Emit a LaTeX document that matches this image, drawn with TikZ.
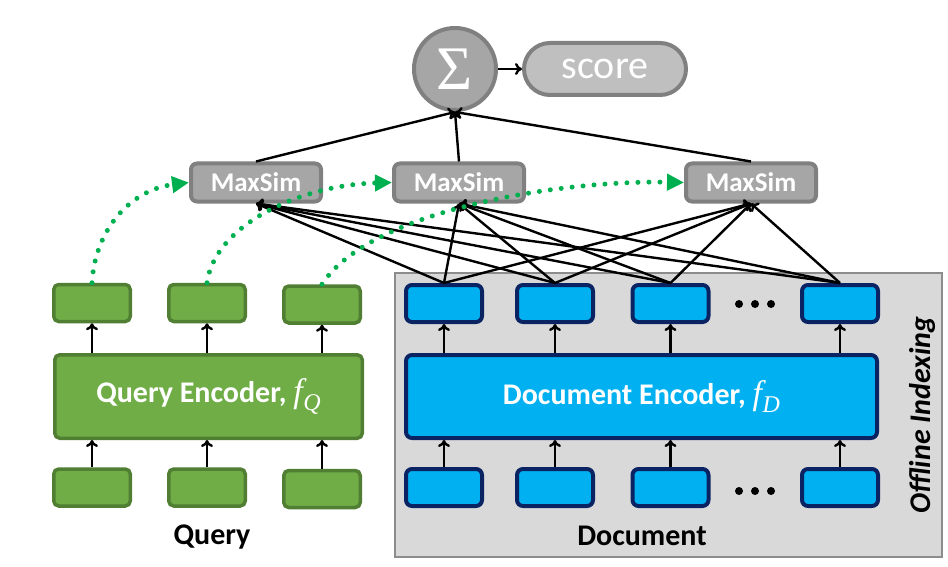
\documentclass[tikz,border=0pt]{standalone}
\usepackage{fontspec}
\setmainfont{Carlito}
\newfontfamily\tnr{Liberation Serif}
\usetikzlibrary{arrows.meta}
\definecolor{qgreen}{HTML}{70AD47}
\definecolor{qdark}{HTML}{507E32}
\definecolor{dblue}{HTML}{00B0F0}
\definecolor{dnavy}{HTML}{0A2463}
\definecolor{boxgray}{HTML}{D9D9D9}
\definecolor{boxedge}{HTML}{8C8C8C}
\definecolor{msfill}{HTML}{A6A6A6}
\definecolor{msedge}{HTML}{808080}
\definecolor{scfill}{HTML}{BFBFBF}
\definecolor{gdotc}{HTML}{00B050}
\newcommand{\encf}[1]{{\tnr\itshape\mdseries\fontsize{34}{36}\selectfont f\kern0.02em\raisebox{-0.25em}{\fontsize{24}{24}\selectfont #1}}}
\begin{document}
\begin{tikzpicture}[x=1pt,y=-1pt,
  qtok/.style={draw=qdark,fill=qgreen,line width=3.5pt,rounded corners=5pt,minimum width=76.5pt,minimum height=37pt,inner sep=0pt},
  qenc/.style={draw=qdark,fill=qgreen,line width=3.5pt,rounded corners=5pt,minimum width=307.5pt,minimum height=83.5pt,inner sep=0pt,text=white,font=\fontsize{30}{36}\selectfont\bfseries},
  dtok/.style={draw=dnavy,fill=dblue,line width=4pt,rounded corners=6pt,minimum width=76pt,minimum height=37pt,inner sep=0pt},
  denc/.style={draw=dnavy,fill=dblue,line width=4pt,rounded corners=6pt,minimum width=471pt,minimum height=83pt,inner sep=0pt,text=white,font=\fontsize{30}{36}\selectfont\bfseries},
  maxsim/.style={draw=msedge,fill=msfill,line width=4pt,rounded corners=6pt,minimum width=130pt,minimum height=38pt,inner sep=0pt,text=white,font=\fontsize{27}{30}\selectfont\bfseries},
  conn/.style={line width=2.4pt,-{To[length=7pt,width=12pt]}},
  gdot/.style={draw=gdotc,line width=5pt,line cap=round,dash pattern=on 0pt off 11pt,-{Triangle[length=17pt,width=16pt,fill=gdotc]}},
  lbl/.style={font=\fontsize{30}{36}\selectfont\bfseries,text=black,inner sep=0pt},
  ddot/.style={fill=black,draw=none}
]
\useasboundingbox (0,0) rectangle (948,567);
% offline indexing region
\node[draw=boxedge,fill=boxgray,line width=2pt,minimum width=547pt,minimum height=284pt,inner sep=0pt] (off) at (668.5,415) {};
\node[lbl,rotate=90,font=\fontsize{30}{36}\selectfont\bfseries\itshape] (offlbl) at (922,415) {Offline Indexing};

% top: sum and score
\node[circle,draw=msedge,fill=msfill,line width=4pt,minimum size=82pt,inner sep=0pt,text=white,font=\tnr\fontsize{62}{62}\selectfont] (sig) at (455,69) {Σ};
\node[draw=msedge,fill=scfill,line width=4pt,rounded corners=26pt,minimum width=162pt,minimum height=52pt,inner sep=0pt,text=white,font=\fontsize{40}{44}\selectfont] (score) at (605,69) {score};

% MaxSim boxes
\node[maxsim] (m1) at (256,182.5) {MaxSim};
\node[maxsim] (m2) at (459,182.5) {MaxSim};
\node[maxsim] (m3) at (751,182.5) {MaxSim};

% query side
\node[qtok] (qt1) at (92,303) {};
\node[qtok] (qt2) at (207,303) {};
\node[qtok] (qt3) at (322,304.5) {};
\node[qenc] (qe) at (208.5,396.5) {Query Encoder, \encf{Q}};
\node[qtok] (qb1) at (92,487.5) {};
\node[qtok] (qb2) at (207,487.5) {};
\node[qtok] (qb3) at (322,489) {};
\node[lbl] (qlbl) at (212,537) {Query};

% document side
\node[dtok] (d1) at (444,303.5) {};
\node[dtok] (d2) at (555,303.5) {};
\node[dtok] (d3) at (670.5,303.5) {};
\node[dtok] (d4) at (840,303.5) {};
\node[denc] (de) at (641.5,396.5) {Document Encoder, \encf{D}};
\node[dtok] (b1) at (444,487.5) {};
\node[dtok] (b2) at (555,487.5) {};
\node[dtok] (b3) at (670.5,487.5) {};
\node[dtok] (b4) at (840,487.5) {};
\node[lbl] (dlbl) at (642,536) {Document};

% ellipsis dots
\foreach \x in {739,755,771} {
  \fill[ddot] (\x,304) circle (4);
  \fill[ddot] (\x,491) circle (4);
}

% vertical arrows
\foreach \i in {1,2,3} {
  \draw[conn] (qb\i.north) -- (qb\i.north |- qe.south);
  \draw[conn] (qt\i.south |- qe.north) -- (qt\i.south);
}
\foreach \i in {1,2,3,4} {
  \draw[conn] (b\i.north) -- (b\i.north |- de.south);
  \draw[conn] (d\i.south |- de.north) -- (d\i.south);
}

% doc embeddings to MaxSim
\foreach \d in {d1,d2,d3,d4} {
  \foreach \m in {m1,m2,m3} {
    \draw[conn] (\d.north) -- (\m.south);
  }
}
% MaxSim to sum
\foreach \m in {m1,m2,m3} {
  \draw[conn] (\m.north) -- (sig.south);
}
\draw[conn] (sig.east) -- (score.west);

% green dotted query links
\draw[gdot] (qt1.north) .. controls (95,230) and (130,190) .. (m1.west);
\draw[gdot] (qt2.north) .. controls (215,225) and (300,185) .. (m2.west);
\draw[gdot] (qt3.north) .. controls (370,210) and (560,180) .. (m3.west);
\end{tikzpicture}
\end{document}
